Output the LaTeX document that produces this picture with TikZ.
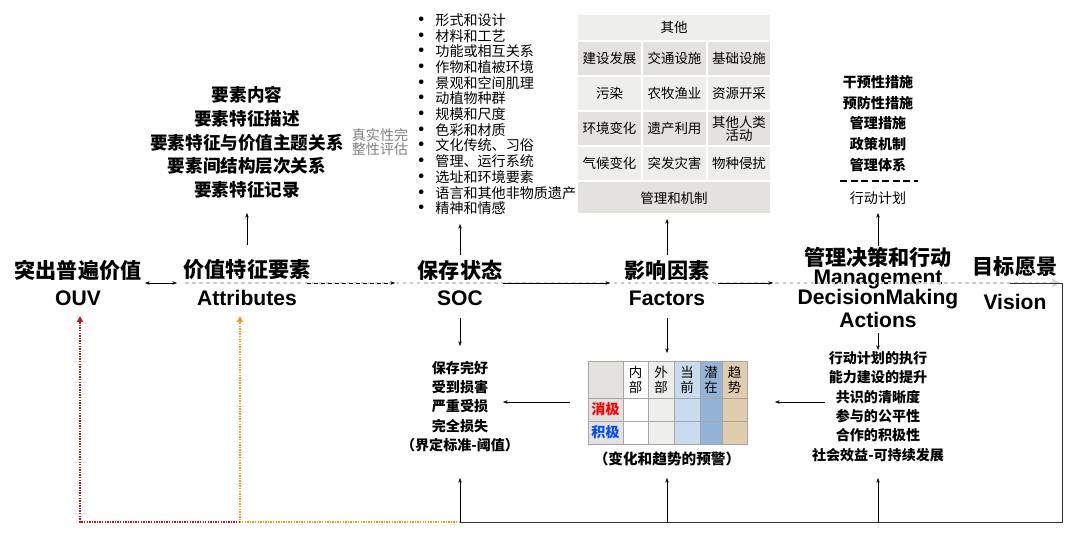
\documentclass[tikz,border=0pt]{standalone}
\usepackage{fontspec}
\setmainfont{Noto Sans CJK SC}
\newfontfamily\lat{Liberation Sans}
\usetikzlibrary{arrows.meta}
\usetikzlibrary{positioning}
\definecolor{cellA}{HTML}{E3E2DE}
\definecolor{cellB}{HTML}{EEEEEC}
\definecolor{blueA}{HTML}{C9DBEE}
\definecolor{blueB}{HTML}{93B4D6}
\definecolor{tanA}{HTML}{E0CDAE}
\definecolor{ouvred}{HTML}{C0161B}
\definecolor{attorange}{HTML}{F39A1E}
\tikzset{
  head/.style={font=\fontsize{18}{20}\selectfont\bfseries, inner sep=1pt},
  eng/.style={font=\lat\fontsize{18}{20}\selectfont\bfseries, inner sep=1pt},
  item/.style={font=\fontsize{12}{14}\selectfont\bfseries, inner sep=1pt},
  bul/.style={font=\fontsize{12}{13}\selectfont, inner sep=0pt, anchor=west},
  grid/.style={font=\fontsize{11.5}{13}\selectfont, inner sep=0pt, align=center},
  conn/.style={-{Stealth[length=4pt,width=3pt]}, black, thin},
}
\begin{document}
\begin{tikzpicture}[x=0.03cm, y=-0.03cm]
\useasboundingbox (0,0) rectangle (1080,535);

% main chain
\node[head] (ouvc) at (78,270) {突出普遍价值};
\node[eng]  (ouv)  at (78,298) {OUV};
\node[head] (attc) at (247,270) {价值特征要素};
\node[eng]  (att)  at (247,298) {Attributes};
\node[head] (socc) at (460,270) {保存状态};
\node[eng]  (soc)  at (460,298) {SOC};
\node[head] (facc) at (667,270) {影响因素};
\node[eng]  (fac)  at (667,298) {Factors};
\node[head] (mgtc) at (878,257) {管理决策和行动};
\node[eng]  (mgt1) at (878,279) {Management};
\node[eng]  (mgt)  at (878,299) {DecisionMaking};
\node[eng]  (mgt3) at (878,320) {Actions};
\node[head] (visc) at (1015,267) {目标愿景};
\node[eng]  (vis)  at (1015,302) {Vision};

\draw[gray!40, dashed, very thick, -{Stealth[length=7pt,width=7pt]}] (185,283) -- (1060,283);
\draw[{Stealth[length=4pt,width=3pt]}-{Stealth[length=4pt,width=3pt]}] (145,283) -- (177,283);
\draw[conn, dashed] (307,283) -- (395,283);
\draw[conn] (503,283) -- (610,283);
\draw[conn] (718,283) -- (773,283);

% attributes list
\foreach \t [count=\i] in {要素内容, 要素特征描述, 要素特征与价值主题关系, 要素间结构层次关系, 要素特征记录}
  \node[item, font=\fontsize{15}{17}\selectfont\bfseries] (attl\i) at (247, 95+23.7*\i-23.7) {\t};
\node[grid, gray, font=\fontsize{12}{10.5}\selectfont] (auth) at (380,142) {真实性完\\整性评估};
\draw[conn] (247,245) -- (247,213);

% SOC aspects
\foreach \t [count=\i] in {形式和设计, 材料和工艺, 功能或相互关系, 作物和植被环境, 景观和空间肌理, 动植物种群, 规模和尺度, 色彩和材质, 文化传统、习俗, 管理、运行系统, 选址和环境要素, 语言和其他非物质遗产, 精神和情感}
  \node[bul] (socl\i) at (413, 20+15.7*\i-15.7) {{\bfseries\fontsize{14}{13}\selectfont •}\hspace{5pt}\t};
\draw[conn] (460,255) -- (460,224);

% factors grid
\fill[cellB] (578,15) rectangle (770,40);
\node[grid] (oth) at (674,27) {其他};
\foreach \r/\a/\b/\c/\shade in {1/建设发展/交通设施/基础设施/cellA, 2/污染/农牧渔业/资源开采/cellB, 3/环境变化/遗产利用/其他人类\\活动/cellA, 4/气候变化/突发灾害/物种侵扰/cellB} {
  \fill[\shade] (578,7+35*\r) rectangle (641,40+35*\r);
  \fill[\shade] (643,7+35*\r) rectangle (706,40+35*\r);
  \fill[\shade] (708,7+35*\r) rectangle (770,40+35*\r);
  \node[grid] (g\r a) at (609.5,23.5+35*\r) {\a};
  \node[grid] (g\r b) at (674.5,23.5+35*\r) {\b};
  \node[grid, font=\fontsize{11.5}{11}\selectfont] (g\r c) at (739,23.5+35*\r) {\c};
}
\fill[cellA] (578,182) rectangle (770,213);
\node[grid] (mech) at (674,198) {管理和机制};
\draw[conn] (667,255) -- (667,219);

% management measures
\foreach \t [count=\i] in {干预性措施, 预防性措施, 管理措施, 政策机制, 管理体系}
  \node[item] (meas\i) at (878, 82+20.8*\i-20.8) {\t};
\draw[very thick] (840,181) -- (918,181) [dash pattern=on 6pt off 3pt];
\node[item, font=\fontsize{12}{14}\selectfont] (plan) at (878,198) {行动计划};
\draw[conn] (878,246) -- (878,213);

% SOC grades
\foreach \t [count=\i] in {保存完好, 受到损害, 严重受损, 完全损失, （界定标准-阈值）}
  \node[item] (grade\i) at (460, 368+19.3*\i-19.3) {\t};
\draw[conn] (460,318) -- (460,346);

% warning table
\fill[cellA] (588,361) rectangle (623,444);
\fill[white] (623,361) rectangle (648,444);
\fill[cellB] (648,361) rectangle (674,444);
\fill[blueA] (674,361) rectangle (700,444);
\fill[blueB] (700,361) rectangle (722,444);
\fill[tanA] (722,361) rectangle (747,444);
\draw[gray!70] (588,361) rectangle (747,444);
\foreach \xx in {623,648,674,700,722} \draw[gray!70] (\xx,361) -- (\xx,444);
\foreach \yy in {398,421} \draw[gray!70] (588,\yy) -- (747,\yy);
\foreach \t/\xx [count=\i] in {内\\部/635.5, 外\\部/661, 当\\前/687, 潜\\在/711, 趋\\势/734.5}
  \node[grid, font=\fontsize{11.5}{13}\selectfont] (hd\i) at (\xx,380) {\t};
\node[grid, red, font=\fontsize{12}{14}\selectfont\bfseries] (neg) at (605.5,409.5) {消极};
\node[grid, blue!70!cyan, font=\fontsize{12}{14}\selectfont\bfseries] (pos) at (605.5,432.5) {积极};
\node[item, font=\fontsize{12.5}{14}\selectfont\bfseries] (warn) at (667,459) {（变化和趋势的预警）};
\draw[conn] (667,318) -- (667,353);
\draw[conn] (570,402) -- (503,402);

% action outcomes
\foreach \t [count=\i] in {行动计划的执行, 能力建设的提升, 共识的清晰度, 参与的公平性, 合作的积极性, 社会效益-可持续发展}
  \node[item] (out\i) at (878, 358+19.4*\i-19.4) {\t};
\draw[conn] (878,333) -- (878,350);
\draw[conn] (825,402) -- (775,402);

% feedback loop
\coordinate (loopR) at (1062,522);
\draw[black!80] (460,522) -- (loopR) -- (1062,283) -- (1010,283);
\foreach \xx in {460,667,878} \draw[conn] (\xx,522) -- (\xx,478);
\draw[attorange, densely dotted, line width=1.2pt, -{Triangle[length=5pt,width=5pt]}] (460,522) -- (240,522) -- (240,316);
\draw[ouvred, densely dotted, line width=1.2pt, -{Triangle[length=5pt,width=5pt]}] (240,522) -- (80,522) -- (80,316);
\end{tikzpicture}
\end{document}
